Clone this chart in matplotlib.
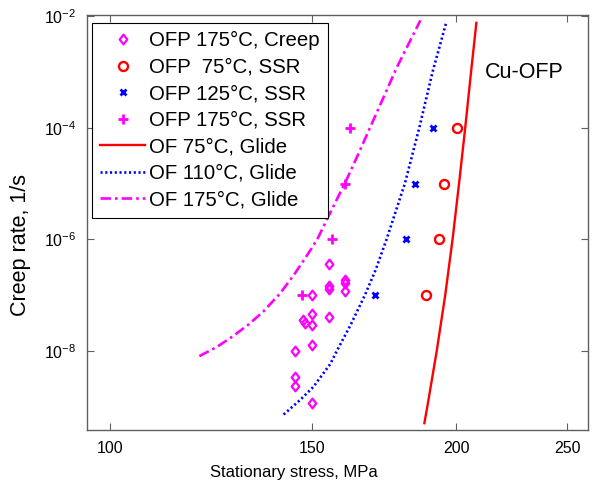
import matplotlib
matplotlib.use("Agg")
import matplotlib.pyplot as plt
from matplotlib.ticker import NullLocator
from matplotlib.path import Path

plt.rcParams['font.family'] = ['Liberation Sans', 'DejaVu Sans']
plt.rcParams['mathtext.fontset'] = 'custom'
plt.rcParams['mathtext.rm'] = 'Liberation Sans'
plt.rcParams['mathtext.it'] = 'Liberation Sans:italic'

# ---- data ----
creep175_x = [155, 155, 155, 160, 160, 160, 150, 150, 147.3, 147.8, 150, 155,
              150, 145, 145, 145, 150]
creep175_y = [3.7e-7, 1.45e-7, 1.3e-7, 1.85e-7, 1.65e-7, 1.2e-7, 1.0e-7, 4.6e-8,
              3.6e-8, 3.2e-8, 2.9e-8, 4.1e-8, 1.28e-8, 1.0e-8, 3.4e-9, 2.4e-9, 1.15e-9]

ssr75_x = [188.3, 193.2, 195.3, 200.3]
ssr75_y = [1e-7, 1e-6, 1e-5, 1e-4]

ssr125_x = [170.1, 180.9, 184.3, 190.9]
ssr125_y = [1e-7, 1e-6, 1e-5, 1e-4]

ssr175_x = [146.8, 156, 160, 161.8]
ssr175_y = [1e-7, 1e-6, 1e-5, 1e-4]

glide75_x = [187.7, 188.8, 192.4, 195.7, 198.6, 201.2, 203.7, 206.1, 208.3]
glide75_y = [5.1e-10, 1e-9, 1e-8, 1e-7, 1e-6, 1e-5, 1e-4, 1e-3, 7.6e-3]

glide110_x = [141.6, 146.3, 150.3, 155.4, 157.5, 162.0, 166.6, 170.2, 174.0,
              180.5, 185.8, 190.8, 196.1]
glide110_y = [7.3e-10, 1.32e-9, 2.29e-9, 5.8e-9, 1e-8, 3.0e-8, 1e-7, 2.8e-7, 1e-6,
              1e-5, 1e-4, 1e-3, 7.7e-3]

glide175_x = [119.6, 124.0, 128.0, 132.0, 135.9, 140.6, 144.4, 147.5, 149.8,
              151.8, 154.9, 160.1, 164.0, 168.4, 177.6, 186.2]
glide175_y = [8.1e-9, 1.2e-8, 1.86e-8, 3.0e-8, 5.06e-8, 1.08e-7, 2.25e-7, 4.3e-7,
              7.0e-7, 1.1e-6, 2.6e-6, 1.02e-5, 3.0e-5, 1.02e-4, 1.2e-3, 8.4e-3]

x_ticks = [100, 150, 200, 250]
x_ticklabels = ['100', '150', '200', '250']
y_ticks = [1e-8, 1e-6, 1e-4, 1e-2]
y_ticklabels = [r'$\mathregular{10^{-8}}$', r'$\mathregular{10^{-6}}$',
                r'$\mathregular{10^{-4}}$', r'$\mathregular{10^{-2}}$']

# ---- figure ----
fig = plt.figure(figsize=(5.97, 4.83), dpi=100)
ax = fig.add_axes([87/597, 53/483, 501/597, 415/483])
ax.set_xscale('log')
ax.set_yscale('log')

diamond = Path([(0, 1), (0.78, 0), (0, -1), (-0.78, 0), (0, 1)],
               [Path.MOVETO, Path.LINETO, Path.LINETO, Path.LINETO, Path.CLOSEPOLY])

magenta = '#ff00ff'
ax.plot(creep175_x, creep175_y, linestyle='none', marker=diamond, markersize=7,
        markerfacecolor='none', markeredgecolor=magenta, markeredgewidth=1.6,
        label='OFP 175°C, Creep')
ax.plot(ssr75_x, ssr75_y, linestyle='none', marker='o', markersize=6.5,
        markerfacecolor='none', markeredgecolor='red', markeredgewidth=1.7,
        label='OFP  75°C, SSR')
ax.plot(ssr125_x, ssr125_y, linestyle='none', marker='x', markersize=4.5,
        color='blue', markeredgewidth=2, label='OFP 125°C, SSR')
ax.plot(ssr175_x, ssr175_y, linestyle='none', marker='+', markersize=7,
        color=magenta, markeredgewidth=2, label='OFP 175°C, SSR')
ax.plot(glide75_x, glide75_y, color='red', linewidth=1.7, label='OF 75°C, Glide')
ax.plot(glide110_x, glide110_y, color='blue', linewidth=1.9,
        linestyle=(0, (0.8, 1.0)), label='OF 110°C, Glide')
ax.plot(glide175_x, glide175_y, color=magenta, linewidth=1.9,
        linestyle=(0, (4, 1.5, 1, 1.5)), label='OF 175°C, Glide')

ax.set_xlim(95.5, 260.5)
ax.set_ylim(3.85e-10, 1.05e-2)

ax.set_xticks(x_ticks)
ax.set_xticklabels(x_ticklabels)
ax.set_yticks(y_ticks)
ax.set_yticklabels(y_ticklabels)
ax.xaxis.set_minor_locator(NullLocator())
ax.yaxis.set_minor_locator(NullLocator())

frame_col = '#606060'
for s in ax.spines.values():
    s.set_color(frame_col)
    s.set_linewidth(1.0)
ax.tick_params(which='both', direction='in', top=True, right=True,
               length=5, width=0.8, color=frame_col, labelsize=11.5, pad=8,
               labelcolor='black')

ax.set_xlabel('Stationary stress, MPa', fontsize=12)
ax.set_ylabel('Creep rate, 1/s', fontsize=15.5)
ax.xaxis.set_label_coords(0.413, -0.085)
ax.yaxis.set_label_coords(-0.112, 0.446)

ax.text(212, 9.6e-4, 'Cu-OFP', fontsize=15.5, va='center', ha='left')

leg = ax.legend(loc='upper left', bbox_to_anchor=(0.01, 0.981), borderaxespad=0,
                fontsize=14.7, numpoints=1, handlelength=2.2, handletextpad=0.2,
                labelspacing=0.37, borderpad=0.4, frameon=True, fancybox=False,
                framealpha=1, edgecolor='black')
leg.get_frame().set_linewidth(0.8)

fig.savefig('out.png', dpi=100)
